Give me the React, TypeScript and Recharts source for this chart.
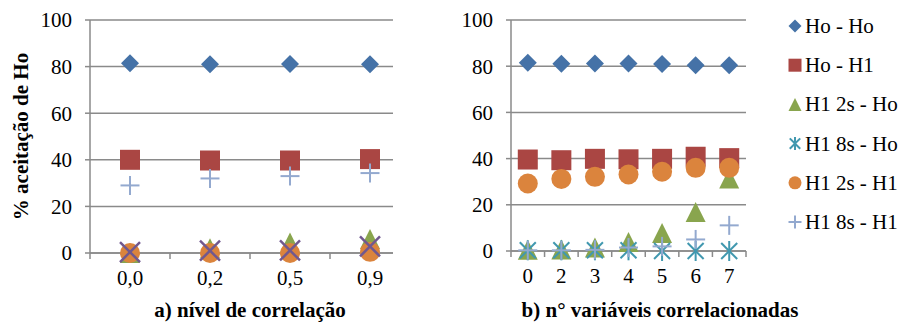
import React from 'react';
import { ScatterChart, Scatter, XAxis, YAxis, CartesianGrid } from 'recharts';

// series names and markers, in legend order
const SERIES = ['Ho - Ho', 'Ho - H1', 'H1 2s - Ho', 'H1 8s - Ho', 'H1 2s - H1', 'H1 8s - H1'];
const SHAPES = ['diamond', 'square', 'triangle', 'star', 'circle', 'plus'];
const COLORS = ['#4572A7', '#AA4643', '#89A54E', '#4198AF', '#DB843D', '#93A9CF'];
const LEFT_X_COLOR = '#71588F';

// a) nível de correlação
const corrLevels = ['0,0', '0,2', '0,5', '0,9'];
const leftHoHo = [81.4, 81, 81.1, 81];
const leftHoH1 = [40, 39.7, 39.7, 40.3];
const left2sHo = [0, 2, 4.5, 6];
const left8sHo = [0.4, 1, 1.1, 2.8];
const left2sH1 = [0, 0, 0, 0.5];
const left8sH1 = [29, 32, 33, 34.3];

// b) n° variáveis correlacionadas
const varCounts = ['0', '2', '3', '4', '5', '6', '7'];
const rightHoHo = [81.5, 81.1, 81.2, 81.2, 81, 80.4, 80.4];
const rightHoH1 = [39.6, 39.3, 39.9, 39.7, 39.9, 40.8, 40.2];
const right2sHo = [0.5, 0.7, 1.5, 3.9, 7.8, 16.9, 31.4];
const right8sHo = [0.3, 0.3, 0.3, 0.3, 0, 0, 0];
const right2sH1 = [29.2, 31.2, 32.1, 33.1, 34.3, 36, 36];
const right8sH1 = [0.3, 0.3, 0.5, 1.5, 2, 5, 11.1];

const yTicks = [0, 20, 40, 60, 80, 100];

const FONT = 'Liberation Serif';
const GRID = '#8a8a8a';

const toPoints = (vals: number[]) => vals.map((y, i) => ({ x: i, y }));

function drawMarker(kind: string, cx: number, cy: number, r: number, color: string) {
  switch (kind) {
    case 'diamond':
      return <path d={`M${cx},${cy - r} L${cx + r},${cy} L${cx},${cy + r} L${cx - r},${cy} Z`} fill={color} />;
    case 'square':
      return <rect x={cx - r} y={cy - r} width={2 * r} height={2 * r} fill={color} />;
    case 'triangle':
      return <path d={`M${cx},${cy - r} L${cx + r},${cy + r} L${cx - r},${cy + r} Z`} fill={color} />;
    case 'circle':
      return <circle cx={cx} cy={cy} r={r} fill={color} />;
    case 'x':
      return (
        <g stroke={color} strokeWidth={2.5}>
          <line x1={cx - r} y1={cy - r} x2={cx + r} y2={cy + r} />
          <line x1={cx - r} y1={cy + r} x2={cx + r} y2={cy - r} />
        </g>
      );
    case 'star':
      return (
        <g stroke={color} strokeWidth={2}>
          <line x1={cx - r * 0.8} y1={cy - r * 0.8} x2={cx + r * 0.8} y2={cy + r * 0.8} />
          <line x1={cx - r * 0.8} y1={cy + r * 0.8} x2={cx + r * 0.8} y2={cy - r * 0.8} />
          <line x1={cx} y1={cy - r} x2={cx} y2={cy + r} />
        </g>
      );
    default:
      return (
        <g stroke={color} strokeWidth={2}>
          <line x1={cx - r} y1={cy} x2={cx + r} y2={cy} />
          <line x1={cx} y1={cy - r} x2={cx} y2={cy + r} />
        </g>
      );
  }
}

const SIZES: Record<string, number> = { diamond: 9, square: 10, triangle: 10, circle: 10, x: 10, star: 10, plus: 9.5 };

const shapeFn = (kind: string, color: string) => (p: any) =>
  drawMarker(kind, p.cx, p.cy, SIZES[kind], color);

// category tick label + band boundary tick marks
const makeTick = (labels: string[], halfBand: number, endTick: boolean) => (props: any) => {
  const { x, y, payload, index } = props;
  const axisY = y - 17;
  return (
    <g>
      <line x1={x - halfBand} x2={x - halfBand} y1={axisY} y2={axisY + 6} stroke={GRID} strokeWidth={1.5} />
      {endTick && index === labels.length - 1 && (
        <line x1={x + halfBand} x2={x + halfBand} y1={axisY} y2={axisY + 6} stroke={GRID} strokeWidth={1.5} />
      )}
      <text x={x} y={y} dy="0.71em" textAnchor="middle" fontFamily={FONT} fontSize={21} fill="#000">
        {labels[payload.value]}
      </text>
    </g>
  );
};

const yAxisProps = {
  type: 'number' as const,
  domain: [0, 100],
  ticks: yTicks,
  interval: 0 as const,
  tickSize: 5,
  tickMargin: 13,
  stroke: GRID,
  strokeWidth: 1.5,
  tick: { fontFamily: FONT, fontSize: 21, fill: '#000' },
};

const App: React.FC = () => {
  const leftSeries = [
    { data: leftHoHo, kind: 'diamond', color: COLORS[0] },
    { data: leftHoH1, kind: 'square', color: COLORS[1] },
    { data: left2sHo, kind: 'triangle', color: COLORS[2] },
    { data: left2sH1, kind: 'circle', color: COLORS[4] },
    { data: left8sHo, kind: 'x', color: LEFT_X_COLOR },
    { data: left8sH1, kind: 'plus', color: COLORS[5] },
  ];
  const rightData = [rightHoHo, rightHoH1, right2sHo, right8sHo, right2sH1, right8sH1];

  return (
    <div>
      {/* a) nível de correlação */}
      <div style={{ position: 'absolute', left: 0, top: 0 }}>
        <ScatterChart width={420} height={325} margin={{ top: 20, right: 27, bottom: 0, left: 0 }}>
          <CartesianGrid vertical={false} stroke={GRID} strokeWidth={1.5} />
          <XAxis
            type="number"
            dataKey="x"
            domain={[-0.5, 3.2875]}
            ticks={[0, 1, 2, 3]}
            interval={0}
            height={72}
            tickSize={5}
            tickMargin={12}
            tickLine={false}
            stroke={GRID}
            strokeWidth={1.5}
            allowDataOverflow
            tick={makeTick(corrLevels, 40, false)}
            label={{
              content: () => (
                <text x={250} y={317} textAnchor="middle" fontFamily={FONT} fontSize={21} fontWeight="bold" fill="#000">
                  a) nível de correlação
                </text>
              ),
            }}
          />
          <YAxis
            {...yAxisProps}
            dataKey="y"
            width={90}
            label={{
              content: () => (
                <text
                  x={28}
                  y={136.5}
                  transform="rotate(-90 28 136.5)"
                  textAnchor="middle"
                  fontFamily={FONT}
                  fontSize={21}
                  fontWeight="bold"
                  fill="#000"
                >
                  % aceitação de Ho
                </text>
              ),
            }}
          />
          {leftSeries.map((s, i) => (
            <Scatter
              key={i}
              data={toPoints(s.data)}
              isAnimationActive={false}
              shape={shapeFn(s.kind, s.color)}
            />
          ))}
        </ScatterChart>
      </div>

      {/* b) n° variáveis correlacionadas */}
      <div style={{ position: 'absolute', left: 430, top: 0 }}>
        <ScatterChart width={471} height={325} margin={{ top: 20, right: 155, bottom: 0, left: 0 }}>
          <CartesianGrid vertical={false} stroke={GRID} strokeWidth={1.5} />
          <XAxis
            type="number"
            dataKey="x"
            domain={[-0.5, 6.5]}
            ticks={[0, 1, 2, 3, 4, 5, 6]}
            interval={0}
            height={74}
            tickSize={5}
            tickMargin={12}
            tickLine={false}
            stroke={GRID}
            strokeWidth={1.5}
            tick={makeTick(varCounts, 16.8, true)}
            label={{
              content: () => (
                <text x={230} y={317} textAnchor="middle" fontFamily={FONT} fontSize={21} fontWeight="bold" fill="#000">
                  b) n° variáveis correlacionadas
                </text>
              ),
            }}
          />
          <YAxis {...yAxisProps} dataKey="y" width={81} />
          {rightData.map((d, i) => (
            <Scatter
              key={i}
              name={SERIES[i]}
              data={toPoints(d)}
              isAnimationActive={false}
              shape={shapeFn(SHAPES[i], COLORS[i])}
            />
          ))}
        </ScatterChart>
      </div>

      {/* legend */}
      <svg style={{ position: 'absolute', left: 780, top: 0 }} width={121} height={240}>
        {SERIES.map((name, i) => {
          const cy = 26 + i * 39.2;
          return (
            <g key={name}>
              {drawMarker(SHAPES[i], 15, cy, 6.5, COLORS[i])}
              <text x={25} y={cy + 7} fontFamily={FONT} fontSize={21} fill="#000">
                {name}
              </text>
            </g>
          );
        })}
      </svg>
    </div>
  );
};

export default App;
